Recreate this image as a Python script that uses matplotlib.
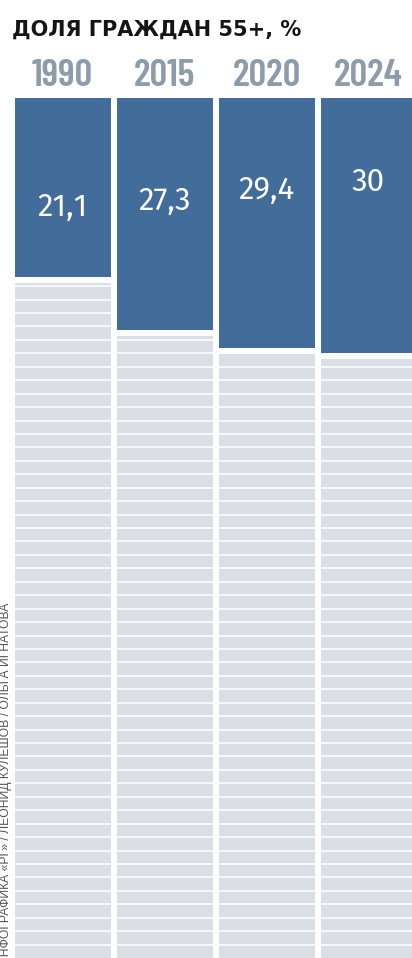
import numpy as np
import matplotlib.pyplot as plt

# data
years = ["1990", "2015", "2020", "2024"]
shares = [21.1, 27.3, 29.4, 30.0]
value_labels = ["21,1", "27,3", "29,4", "30"]
title = "ДОЛЯ ГРАЖДАН 55+, %"
credit = "ИНФОГРАФИКА «РГ» / ЛЕОНИД КУЛЕШОВ / ОЛЬГА ИГНАТОВА"

# layout
label_y = [12.9, 12.2, 10.8, 9.9]   # where the white numbers sit inside the blue
y_max = 101.2
n_stripes = 64
gap = 0.7
bar_w = 96 / 102

BLUE = "#426d9a"
GRAY = "#dadfe5"
YEAR_C = "#8c9caa"

W, H = 412, 958
fig = plt.figure(figsize=(W / 100, H / 100), dpi=100)
fig.patch.set_facecolor("white")
ax = fig.add_axes([0, 0, 1, (H - 98) / H])
ax.set_xlim(-62.5 / 102, (W - 62.5) / 102)
ax.set_ylim(y_max, 0)
ax.axis("off")

x = np.arange(len(years))
ax.bar(x, shares, width=bar_w, color=BLUE, align="center")
gray_bottom = [s + gap for s in shares]
ax.bar(x, [y_max - b for b in gray_bottom], bottom=gray_bottom, width=bar_w,
       color=GRAY, align="center")

# white stripes over the gray part
grid = np.linspace(0, y_max, n_stripes + 1)[1:-1]
for i, b in enumerate(gray_bottom):
    lines = grid[grid > b]
    ax.hlines(lines, i - bar_w / 2, i + bar_w / 2, color="white", lw=1.1)

for i, (lab, ly) in enumerate(zip(value_labels, label_y)):
    ax.text(i, ly, lab, color="white", fontsize=22.5, family=["Fira Sans", "Roboto"],
            ha="center", va="center")

for i, yr in enumerate(years):
    ax.text(i, -1.4, yr, color=YEAR_C, fontsize=28,
            family=["Barlow Condensed", "Roboto Condensed", "DejaVu Sans"],
            fontweight="semibold", ha="center", va="baseline", clip_on=False)

fig.text(12 / W, 1 - 36 / H, title, fontsize=15, family="DejaVu Sans",
         fontweight="bold", color="#151515", ha="left", va="baseline")

fig.text(6 / W, 1 - 603 / H, credit, fontsize=8.7, color="#555555",
         family=["Liberation Sans", "DejaVu Sans"],
         rotation=90, ha="right", va="center", rotation_mode="anchor")

fig.savefig("out.png", dpi=100)
